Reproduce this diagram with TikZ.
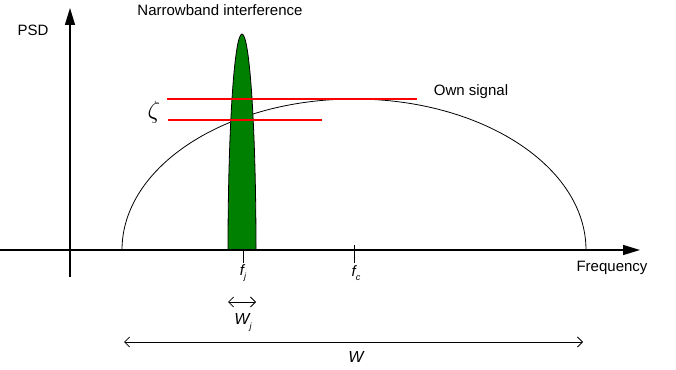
\documentclass[tikz,border=0pt]{standalone}
\usepackage{fontspec}
\setmainfont{Liberation Sans}
\usetikzlibrary{arrows.meta}
\begin{document}
\begin{tikzpicture}[x=1pt,y=1pt,
  axis/.style={line width=1.4pt,-{Triangle[length=17pt,width=10pt]}},
  lab/.style={inner sep=0pt,font=\fontsize{15}{17}\selectfont},
  ilab/.style={inner sep=0pt,font=\fontsize{15}{17}\selectfont\itshape},
  redline/.style={red,line width=1.5pt},
  dim/.style={line width=0.8pt,{Straight Barb[length=5pt,width=10pt]}-{Straight Barb[length=5pt,width=10pt]}},
  tick/.style={line width=0.8pt}]
\useasboundingbox (0,0) rectangle (676,369);
% coordinates
\coordinate (xs) at (0,119);
\coordinate (xe) at (640,119);
\coordinate (ys) at (70,92);
\coordinate (ye) at (70,361);
% own signal (half ellipse)
\draw[line width=0.8pt] (122,119) arc[start angle=180,end angle=0,x radius=232,y radius=151];
% narrowband interference
\draw[line width=0.8pt,fill={rgb,255:red,0;green,128;blue,0}] (228,119) arc[start angle=180,end angle=0,x radius=14,y radius=216] -- cycle;
% axes
\draw[axis] (xs) -- (xe);
\draw[axis] (ys) -- (ye);
% red lines
\coordinate (r1a) at (167,270); \coordinate (r1b) at (417,270);
\coordinate (r2a) at (168,249); \coordinate (r2b) at (322,249);
\draw[redline] (r1a) -- (r1b);
\draw[redline] (r2a) -- (r2b);
\node[inner sep=0pt,font=\fontsize{27}{29}\selectfont] (zeta) at (154,257) {$\zeta$};
% ticks
\coordinate (fjt) at (243,119); \coordinate (fjb) at (243,106);
\coordinate (fct) at (354,124); \coordinate (fcb) at (354,106);
\draw[tick] (fjt) -- (fjb);
\draw[tick] (fct) -- (fcb);
\node[ilab] (fj) at (243,96) {f\raisebox{-0.5ex}{\fontsize{9}{10}\selectfont j}};
\node[ilab] (fc) at (356,96) {f\raisebox{-0.5ex}{\fontsize{9}{10}\selectfont c}};
% dimensions
\coordinate (wja) at (228,67); \coordinate (wjb) at (256,67);
\draw[dim] (wja) -- (wjb);
\node[ilab,font=\fontsize{16}{18}\selectfont\itshape] (wj) at (243,47) {W\raisebox{-0.6ex}{\fontsize{9}{10}\selectfont j}};
\coordinate (wa) at (124,27); \coordinate (wb) at (583,27);
\draw[dim] (wa) -- (wb);
\node[ilab,font=\fontsize{16}{18}\selectfont\itshape] (w) at (356,12) {W};
% labels
\node[lab] (psd) at (33,339) {PSD};
\node[lab] (nbi) at (220,359) {Narrowband interference};
\node[lab] (own) at (471,277) {Own signal};
\node[lab] (freq) at (612,101) {Frequency};
\end{tikzpicture}
\end{document}
